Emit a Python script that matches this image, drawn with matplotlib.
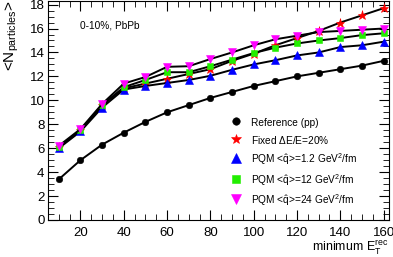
import matplotlib
matplotlib.use("Agg")
import matplotlib.pyplot as plt
from matplotlib.ticker import MultipleLocator

plt.rcParams["font.family"] = ["Liberation Sans", "DejaVu Sans"]
plt.rcParams["mathtext.fontset"] = "custom"
plt.rcParams["mathtext.rm"] = "Liberation Sans"
plt.rcParams["mathtext.it"] = "Liberation Sans"
plt.rcParams["mathtext.default"] = "regular"

et_min = [10, 20, 30, 40, 50, 60, 70, 80, 90, 100, 110, 120, 130, 140, 150, 160]

ref_pp = [3.4, 5.0, 6.3, 7.3, 8.2, 9.0, 9.6, 10.2, 10.7, 11.2, 11.6, 12.0, 12.3, 12.6, 12.9, 13.3]
fixed_20 = [6.1, 7.5, 9.6, 11.0, 11.4, 11.8, 12.2, 12.6, 13.3, 13.9, 14.6, 15.2, 15.8, 16.5, 17.1, 17.7]
pqm_1p2 = [6.0, 7.4, 9.4, 10.9, 11.2, 11.45, 11.7, 12.05, 12.55, 13.0, 13.35, 13.75, 14.0, 14.45, 14.6, 14.9]
pqm_12 = [6.1, 7.5, 9.6, 11.1, 11.7, 12.35, 12.35, 12.85, 13.4, 13.95, 14.4, 14.75, 15.0, 15.2, 15.45, 15.6]
pqm_24 = [6.2, 7.6, 9.7, 11.4, 11.95, 12.8, 12.85, 13.45, 14.0, 14.6, 15.1, 15.4, 15.7, 15.8, 15.9, 16.0]

series = [
    (ref_pp, "o", "black", 4.7, "Reference (pp)"),
    (fixed_20, "*", "red", 6.8, r"Fixed $\Delta$E/E=20%"),
    (pqm_1p2, "^", "blue", 6.0, r"PQM <$\hat{q}$>=1.2 GeV$^{2}$/fm"),
    (pqm_12, "s", "#22ee00", 4.4, r"PQM <$\hat{q}$>=12 GeV$^{2}$/fm"),
    (pqm_24, "v", "magenta", 6.2, r"PQM <$\hat{q}$>=24 GeV$^{2}$/fm"),
]

fig = plt.figure(figsize=(3.93, 2.57), dpi=100)
ax = fig.add_axes([48 / 393, 1 - 220 / 257, 341 / 393, 219 / 257])

for i, (vals, marker, color, ms, label) in enumerate(series):
    ax.plot(et_min, vals, color="black", lw=1.4, zorder=2 + 2 * i)
    ax.plot(et_min, vals, ls="none", marker=marker, color=color, mec=color,
            mew=0.4, ms=ms, label=label, zorder=3 + 2 * i)

ax.set_xlim(5, 162.5)
ax.set_ylim(0, 18.3)
ax.xaxis.set_major_locator(MultipleLocator(20))
ax.xaxis.set_minor_locator(MultipleLocator(5))
ax.yaxis.set_major_locator(MultipleLocator(2))
ax.yaxis.set_minor_locator(MultipleLocator(0.5))
ax.tick_params(which="both", direction="in", top=True, right=True, labelsize=9.5)
ax.tick_params(which="major", length=7)
ax.tick_params(which="minor", length=4)
ax.tick_params(axis="x", pad=5)
ax.tick_params(axis="y", pad=2.5)

ax.text((80 - 48) / 341, 1 - 24 / 219, "0-10%, PbPb", transform=ax.transAxes,
        fontsize=7.3, va="center", ha="left")

# legend sits inside the lower right of the frame
ax.legend(loc="upper left", bbox_to_anchor=(230 / 393, 1 - 116 / 257),
          bbox_transform=fig.transFigure, frameon=False, fontsize=7.3,
          markerscale=1.15, handlelength=1.2, handleheight=1.6,
          handletextpad=0.9, labelspacing=0.45, borderpad=0,
          borderaxespad=0, numpoints=1)

fig.text(3 / 393, 1 - 1 / 257, r"<N$_{particles}$>", rotation=90,
         ha="left", va="top", fontsize=11)
fig.text(389 / 393, 1 - 251 / 257, r"minimum E$_{T}^{rec}$", ha="right",
         va="baseline", fontsize=9)

fig.savefig("out.png", dpi=100)
